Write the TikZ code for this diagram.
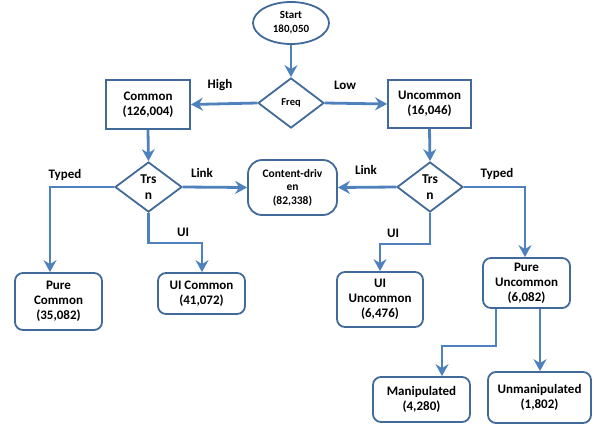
\documentclass[tikz,border=0pt]{standalone}
\usepackage{fontspec}
\setmainfont{Carlito}
\usetikzlibrary{shapes.geometric,arrows.meta}
\definecolor{lineblue}{HTML}{4F81BD}
\definecolor{edgeblue}{HTML}{41699A}
\tikzset{
  conn/.style={draw=lineblue,line width=2.8pt,-{Stealth[length=12pt,width=13pt,inset=4pt]}},
  boxbase/.style={draw=edgeblue,line width=1.8pt,fill=white,align=center,inner sep=0pt,font=\bfseries\fontsize{13}{15}\selectfont},
  sqbox/.style={boxbase},
  rbox/.style={boxbase,rounded corners=8pt},
  dia/.style={boxbase,shape=diamond},
  lbl/.style={font=\bfseries\fontsize{13}{15}\selectfont,inner sep=0pt}
}
\begin{document}
\begin{tikzpicture}[x=1pt,y=-1pt]
\useasboundingbox (0,0) rectangle (594,426);
% nodes
\node[boxbase,shape=ellipse,minimum width=76pt,minimum height=42pt,font=\bfseries\fontsize{11}{14}\selectfont] (start) at (291,23) {Start\\180,050};
\node[dia,minimum width=66pt,minimum height=50pt,font=\bfseries\fontsize{10.5}{12}\selectfont] (freq) at (291,103) {Freq};
\node[sqbox,minimum width=84pt,minimum height=49pt] (common) at (148,104.5) {Common\\(126,004)};
\node[sqbox,minimum width=83pt,minimum height=48pt] (uncommon) at (429.5,104) {Uncommon\\(16,046)};
\node[dia,minimum width=67pt,minimum height=50pt,font=\bfseries\fontsize{13.5}{16}\selectfont] (trsL) at (148.5,187) {Trs\\n};
\node[dia,minimum width=66pt,minimum height=50pt,font=\bfseries\fontsize{13.5}{16}\selectfont] (trsR) at (430,187) {Trs\\n};
\node[boxbase,rounded corners=14pt,minimum width=89pt,minimum height=55pt,font=\bfseries\fontsize{11.5}{13.5}\selectfont] (content) at (292.5,187.5) {Content-driv\\en\\(82,338)};
\node[rbox,minimum width=87pt,minimum height=57pt] (pureC) at (58.5,301.5) {Pure\\Common\\(35,082)};
\node[rbox,minimum width=87pt,minimum height=41pt] (uiC) at (201.5,293.5) {UI Common\\(41,072)};
\node[rbox,minimum width=86pt,minimum height=55pt] (uiU) at (380,299.5) {UI\\Uncommon\\(6,476)};
\node[rbox,minimum width=87pt,minimum height=50pt] (pureU) at (526.5,283) {Pure\\Uncommon\\(6,082)};
\node[rbox,minimum width=97pt,minimum height=45pt] (manip) at (421.5,399.5) {Manipulated\\(4,280)};
\node[rbox,minimum width=103pt,minimum height=51pt] (unmanip) at (539.5,397.5) {Unmanipulated\\(1,802)};
% labels
\node[lbl] (lHigh) at (220,85) {High};
\node[lbl] (lLow) at (345,85) {Low};
\node[lbl] (lLinkL) at (202,173) {Link};
\node[lbl] (lTypedL) at (65,175) {Typed};
\node[lbl] (lUIL) at (183,232) {UI};
\node[lbl] (lLinkR) at (366,170) {Link};
\node[lbl] (lTypedR) at (497,174) {Typed};
\node[lbl] (lUIR) at (393,233) {UI};
% connectors
\draw[conn] (start.south) -- (freq.north);
\draw[conn] (freq.west) -- (common.east);
\draw[conn] (freq.east) -- (uncommon.west);
\draw[conn] (common.south) -- (trsL.north);
\draw[conn] (uncommon.south) -- (trsR.north);
\draw[conn] (trsL.west) -| ([xshift=-8.5pt]pureC.north);
\draw[conn] (trsL.east) -- (content.west);
\draw[conn] (trsL.south) -- ++(0,30) -| ([xshift=0.5pt]uiC.north);
\draw[conn] (trsR.west) -- (content.east);
\draw[conn] (trsR.east) -| ([xshift=-1.5pt]pureU.north);
\draw[conn] (trsR.south) -- ++(0,31) -| (uiU.north);
\draw[conn] ([xshift=-30.5pt]pureU.south) -- ++(0,37) -| ([xshift=20.5pt]manip.north);
\draw[conn] ([xshift=13.5pt]pureU.south) -- ([xshift=0.5pt]unmanip.north);
\end{tikzpicture}
\end{document}
